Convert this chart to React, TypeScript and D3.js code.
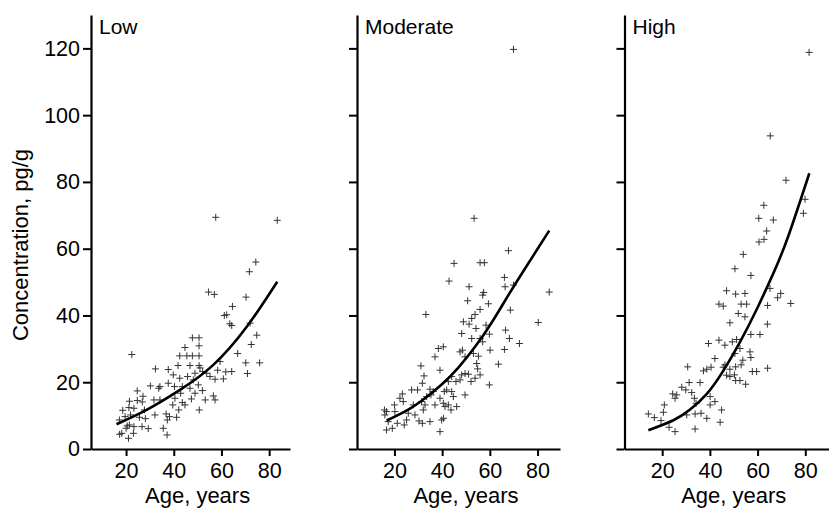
import { useEffect, useRef } from 'react'
import * as d3 from 'd3'

// scatter points: [age, concentration]
const lowPoints: [number, number][] = [
  [57.6, 69.4], [83.4, 68.5], [74.4, 56.0], [71.7, 53.1], [54.6, 47.0], [57.0, 46.3],
  [70.3, 45.5], [64.6, 42.7], [61.2, 40.0], [62.2, 40.2], [63.5, 37.5], [64.3, 37.0],
  [72.0, 37.7], [74.8, 34.1], [72.5, 31.3], [66.8, 28.6], [70.2, 25.8], [76.0, 25.8],
  [70.9, 22.6], [22.4, 28.3], [47.8, 33.3], [50.6, 33.3], [50.6, 30.9], [44.7, 30.4],
  [47.8, 27.9], [50.6, 27.9], [42.5, 27.9], [45.5, 27.9], [41.8, 25.0], [46.8, 25.0],
  [50.6, 25.0], [59.4, 26.2], [58.4, 23.6], [60.8, 21.0], [64.3, 23.2], [53.8, 22.7],
  [61.8, 23.1], [57.3, 20.9], [32.3, 24.0], [37.7, 23.8], [39.8, 22.2], [48.9, 22.7],
  [51.0, 24.3], [52.1, 23.2], [55.2, 21.7], [42.5, 21.2], [45.8, 21.7], [48.2, 20.7],
  [50.3, 19.2], [43.6, 18.7], [46.8, 18.2], [42.9, 16.7], [48.9, 16.7], [52.0, 17.5],
  [40.3, 18.7], [37.7, 19.7], [34.2, 18.7], [33.7, 18.2], [30.2, 18.9], [27.1, 15.8],
  [24.7, 17.4], [21.4, 14.3], [24.7, 14.5], [26.8, 14.1], [18.6, 11.6], [21.2, 12.4],
  [23.3, 12.2], [31.7, 14.7], [34.2, 14.7], [28.1, 9.1], [32.1, 10.2], [36.8, 10.5],
  [41.2, 9.5], [40.5, 15.2], [39.6, 13.2], [43.6, 13.9], [42.1, 11.7], [44.7, 13.2],
  [47.4, 15.0], [50.7, 11.7], [53.2, 14.7], [56.6, 15.9], [57.3, 14.7], [35.6, 6.2],
  [37.3, 8.7], [38.2, 9.7], [37.2, 4.2], [29.3, 6.1], [26.7, 6.7], [23.3, 6.7],
  [20.5, 6.9], [18.2, 4.7], [21.0, 3.2], [23.1, 4.7], [19.6, 9.7], [21.9, 10.2],
  [25.6, 9.5], [21.4, 7.2], [20.0, 6.2], [27.7, 11.7], [17.2, 8.7], [17.3, 4.4]
]

const moderatePoints: [number, number][] = [
  [69.9, 119.7], [53.4, 69.1], [67.8, 59.4], [45.0, 55.6], [55.9, 55.8], [57.7, 55.8],
  [42.9, 50.3], [66.1, 51.4], [66.4, 48.6], [69.9, 49.1], [51.3, 48.6], [84.9, 47.0],
  [57.4, 46.9], [57.0, 46.1], [50.7, 44.4], [59.4, 43.5], [33.2, 40.3], [80.3, 37.9],
  [68.6, 41.6], [72.4, 31.6], [68.2, 33.1], [48.9, 38.1], [52.4, 39.1], [51.3, 37.4],
  [53.8, 40.3], [55.9, 41.8], [66.6, 35.6], [66.1, 29.8], [60.1, 29.6], [63.6, 25.4],
  [59.8, 19.2], [48.2, 34.6], [52.4, 33.1], [54.2, 36.1], [55.9, 33.1], [57.0, 32.1],
  [58.4, 37.1], [59.8, 34.4], [48.5, 29.6], [47.5, 29.1], [49.6, 27.6], [53.1, 28.6],
  [55.2, 27.8], [54.5, 25.6], [54.9, 24.0], [55.9, 22.2], [53.8, 21.2], [52.1, 20.2],
  [49.6, 22.6], [48.2, 22.2], [51.0, 22.4], [47.5, 20.7], [49.6, 16.2], [45.8, 20.2],
  [44.0, 21.7], [42.6, 20.2], [41.9, 17.7], [44.0, 17.2], [44.7, 15.7], [46.1, 12.7],
  [42.6, 13.2], [43.7, 11.7], [41.2, 12.7], [40.5, 13.7], [40.6, 9.2], [39.8, 8.7],
  [39.1, 5.2], [37.0, 13.2], [39.1, 15.2], [40.9, 17.2], [36.3, 17.2], [35.3, 16.2],
  [37.0, 27.6], [38.4, 30.1], [40.5, 30.6], [39.1, 23.6], [31.1, 24.9], [32.4, 21.9],
  [31.7, 19.7], [34.9, 17.9], [33.5, 15.7], [31.4, 14.2], [32.8, 13.2], [32.1, 11.7],
  [34.9, 8.2], [31.7, 7.7], [30.3, 8.4], [28.6, 10.2], [27.9, 13.2], [27.2, 17.7],
  [29.7, 17.7], [25.8, 10.7], [25.1, 8.7], [24.1, 7.2], [23.7, 14.2], [23.3, 16.5],
  [22.3, 15.2], [20.0, 13.2], [20.2, 11.2], [16.7, 11.2], [15.8, 11.7], [16.0, 10.2],
  [17.4, 8.2], [16.7, 5.7], [19.1, 6.2], [21.2, 7.7]
]

const highPoints: [number, number][] = [
  [81.6, 118.8], [65.3, 93.8], [71.9, 80.5], [79.9, 74.8], [79.2, 70.6], [62.6, 73.0],
  [60.5, 69.1], [66.6, 68.6], [63.8, 65.3], [62.7, 62.8], [60.6, 62.0], [54.0, 58.3],
  [50.5, 54.0], [57.2, 52.0], [47.0, 47.4], [50.8, 46.4], [54.7, 46.6], [43.8, 43.4],
  [45.6, 42.8], [53.1, 43.4], [55.4, 43.4], [65.2, 48.1], [69.7, 46.6], [68.4, 45.3],
  [73.9, 43.6], [64.2, 43.0], [51.9, 40.6], [48.4, 37.8], [54.7, 39.6], [64.1, 37.4],
  [61.0, 34.3], [57.2, 34.3], [39.4, 31.6], [43.8, 32.6], [46.3, 31.1], [49.4, 32.1],
  [51.2, 32.8], [52.6, 30.1], [50.5, 28.6], [42.1, 27.1], [56.8, 29.1], [57.2, 27.4],
  [53.8, 26.6], [53.1, 25.2], [50.8, 24.6], [46.3, 25.2], [45.6, 24.5], [48.4, 23.9],
  [47.0, 22.1], [48.4, 21.7], [50.3, 22.2], [50.8, 20.5], [52.6, 20.5], [55.0, 19.4],
  [57.8, 23.2], [59.6, 23.2], [64.2, 24.2], [30.7, 24.6], [37.3, 23.4], [38.7, 23.9],
  [40.5, 24.5], [31.3, 19.9], [35.9, 19.9], [28.2, 18.5], [29.9, 17.7], [32.4, 16.9],
  [24.4, 16.5], [26.1, 16.2], [25.4, 15.2], [33.5, 15.2], [40.1, 15.7], [42.1, 14.2],
  [40.1, 13.2], [34.2, 13.7], [20.9, 13.2], [20.5, 11.0], [14.2, 10.5], [16.7, 9.4],
  [19.5, 8.5], [30.3, 10.2], [33.8, 10.5], [36.3, 10.7], [38.7, 9.2], [44.9, 11.7],
  [44.3, 8.0], [22.9, 6.5], [25.4, 5.2], [33.8, 6.0]
]

// fitted curves: [age, concentration]
const lowFit: [number, number][] = [
  [16.0, 7.4], [28.6, 11.7], [42.6, 17.7], [56.6, 25.2], [70.6, 36.6], [83.4, 50.1]
]
const moderateFit: [number, number][] = [
  [16.7, 8.5], [25.8, 11.8], [32.8, 15.2], [39.8, 19.3], [46.8, 24.4], [53.8, 30.6],
  [60.8, 37.9], [67.7, 46.0], [74.7, 54.0], [84.9, 65.4]
]
const highFit: [number, number][] = [
  [14.2, 5.6], [24.7, 8.6], [31.7, 11.8], [38.7, 16.5], [45.6, 23.4], [52.6, 32.0],
  [59.6, 41.8], [66.6, 52.6], [72.9, 63.8], [81.7, 82.6]
]

const panelTitles = ['Low', 'Moderate', 'High']
const yTicks = [0, 20, 40, 60, 80, 100, 120]
const xTicks = [20, 40, 60, 80]

const FONT = '"Liberation Sans", Arial, Helvetica, sans-serif'

const App = () => {
  const ref = useRef<SVGSVGElement>(null)

  useEffect(() => {
    const svg = d3.select(ref.current)
    svg.selectAll('*').remove()

    const width = 829, height = 509
    const top = 15, bottom = 449
    const panels = [
      { title: panelTitles[0], points: lowPoints, fit: lowFit, left: 91, right: 290, xMin: 5.3 },
      { title: panelTitles[1], points: moderatePoints, fit: moderateFit, left: 357, right: 560, xMin: 4.3 },
      { title: panelTitles[2], points: highPoints, fit: highFit, left: 624.5, right: 829, xMin: 4.2 }
    ]

    svg.attr('width', width).attr('height', height)

    const y = d3.scaleLinear().domain([0, 130]).range([bottom, top])

    panels.forEach((p, i) => {
      const pxPerUnit = 2.385
      const x = d3.scaleLinear()
        .domain([p.xMin, p.xMin + (p.right - p.left) / pxPerUnit])
        .range([p.left, p.right])

      const g = svg.append('g')

      // y axis
      const yAxis = g.append('g')
        .attr('transform', `translate(${p.left},0)`)
        .call(d3.axisLeft(y).tickValues(yTicks).tickSize(8).tickSizeOuter(0).tickPadding(3))
      yAxis.select('.domain').attr('stroke-width', 2.2)
      yAxis.selectAll('.tick line').attr('stroke-width', 2)
      yAxis.selectAll('.tick text')
        .style('font-family', FONT).style('font-size', '21.5px').attr('fill', '#000')
      if (i > 0) yAxis.selectAll('.tick text').remove()

      // x axis
      const xAxis = g.append('g')
        .attr('transform', `translate(0,${bottom})`)
        .call(d3.axisBottom(x).tickValues(xTicks).tickSize(7).tickSizeOuter(0).tickPadding(7))
      xAxis.select('.domain').attr('stroke-width', 2.2)
      xAxis.selectAll('.tick line').attr('stroke-width', 2)
      xAxis.selectAll('.tick text')
        .style('font-family', FONT).style('font-size', '21.5px').attr('fill', '#000')

      g.append('text')
        .attr('x', x(50))
        .attr('y', 503)
        .attr('text-anchor', 'middle')
        .style('font-family', FONT)
        .style('font-size', '22px')
        .text('Age, years')

      g.append('text')
        .attr('x', p.left + 8)
        .attr('y', 34)
        .style('font-family', FONT)
        .style('font-size', '21px')
        .text(p.title)

      // scatter crosses
      g.selectAll('path.pt')
        .data(p.points)
        .enter().append('path')
        .attr('class', 'pt')
        .attr('transform', d => `translate(${x(d[0])},${y(d[1])})`)
        .attr('d', 'M-3.5,0H3.5M0,-3.5V3.5')
        .attr('stroke', '#333')
        .attr('stroke-width', 1)
        .attr('fill', 'none')

      const line = d3.line<[number, number]>()
        .x(d => x(d[0]))
        .y(d => y(d[1]))
        .curve(d3.curveNatural)

      g.append('path')
        .datum(p.fit)
        .attr('d', line)
        .attr('fill', 'none')
        .attr('stroke', '#000')
        .attr('stroke-width', 2.6)
    })

    svg.append('text')
      .attr('transform', `translate(28,245) rotate(-90)`)
      .attr('text-anchor', 'middle')
      .style('font-family', FONT)
      .style('font-size', '22px')
      .text('Concentration, pg/g')
  }, [])

  return (
    <svg ref={ref} style={{ position: 'absolute', left: 0, top: 0, background: '#fff' }} />
  )
}

export default App
